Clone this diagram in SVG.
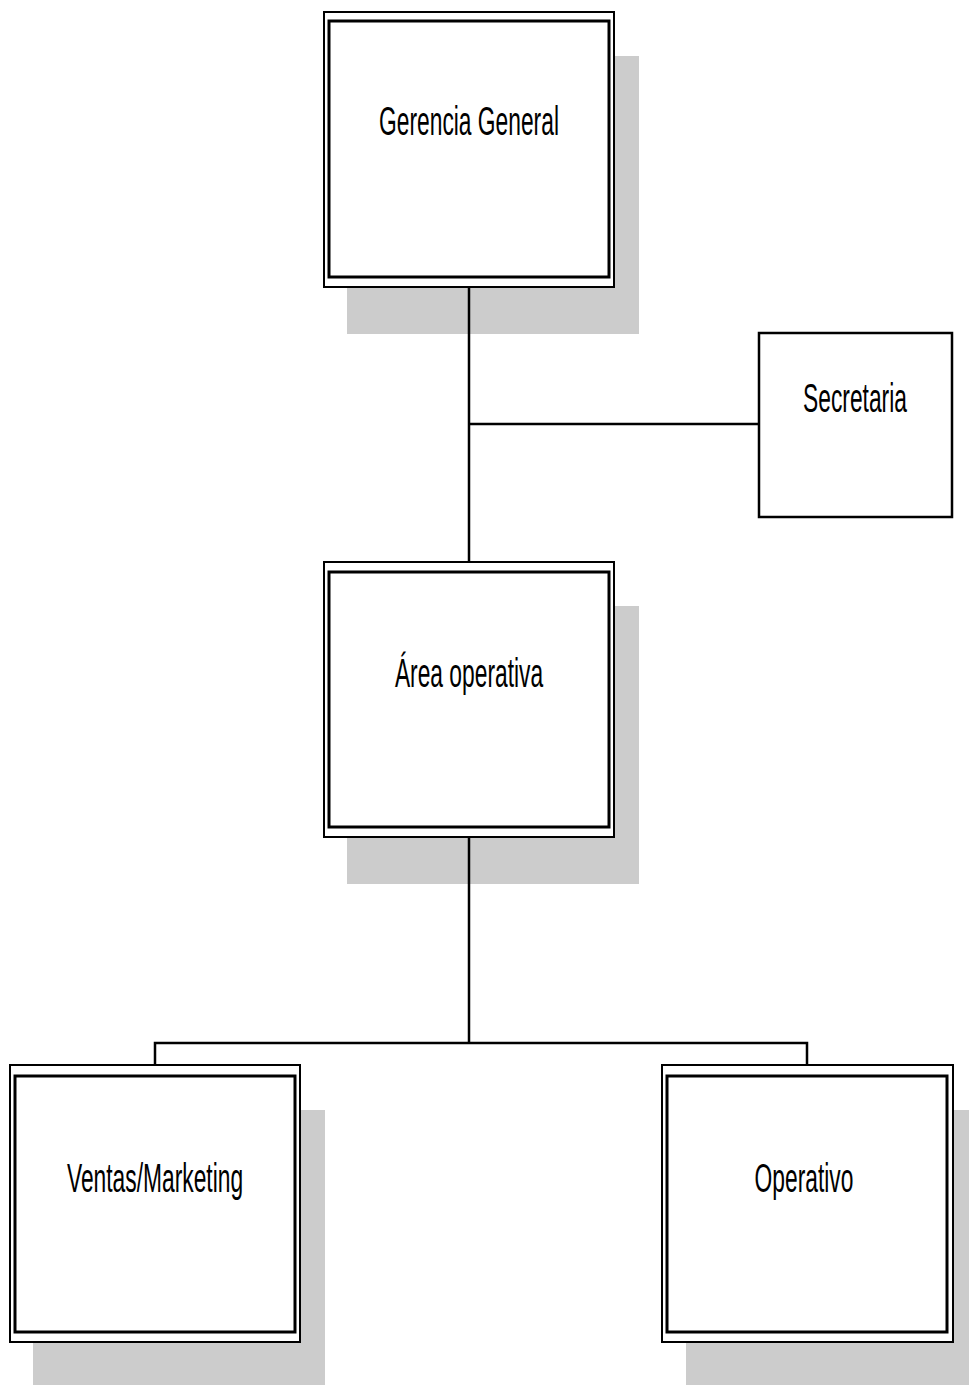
<svg xmlns="http://www.w3.org/2000/svg" width="969" height="1385" viewBox="0 0 969 1385">
<style>
.shadow{fill:#cccccc;stroke:none}
.outer{fill:#ffffff;stroke:#000000;stroke-width:2}
.inner{fill:#ffffff;stroke:#000000;stroke-width:3}
.single{fill:#ffffff;stroke:#000000;stroke-width:2.5}
.lbl{font-family:"Liberation Sans",Arial,sans-serif;font-size:40px;fill:#000000;text-anchor:middle}
.conn{stroke:#000000;stroke-width:2.5;fill:none}
</style>
<rect width="969" height="1385" fill="#ffffff"/>
<g id="shadows">
<rect class="shadow" x="347" y="56" width="292" height="278"/>
<rect class="shadow" x="347" y="606" width="292" height="278"/>
<rect class="shadow" x="33" y="1110" width="292" height="275"/>
<rect class="shadow" x="686" y="1110" width="284" height="275"/>
</g>
<g id="connectors">
<line class="conn" x1="469" y1="287" x2="469" y2="562"/>
<line class="conn" x1="469" y1="424" x2="759" y2="424"/>
<line class="conn" x1="469" y1="837" x2="469" y2="1043"/>
<polyline class="conn" points="155,1065 155,1043 807,1043 807,1065"/>
</g>
<g id="gerencia">
<rect class="outer" x="324" y="12" width="290" height="275"/>
<rect class="inner" x="329" y="21" width="280" height="256"/>
<text class="lbl" transform="translate(469,135) scale(0.57,1)">Gerencia General</text>
</g>
<g id="secretaria">
<rect class="single" x="759" y="333" width="193" height="184"/>
<text class="lbl" transform="translate(855,412) scale(0.57,1)">Secretaria</text>
</g>
<g id="area">
<rect class="outer" x="324" y="562" width="290" height="275"/>
<rect class="inner" x="329" y="572" width="280" height="255"/>
<text class="lbl" transform="translate(469,687) scale(0.57,1)">Área operativa</text>
</g>
<g id="ventas">
<rect class="outer" x="10" y="1065" width="290" height="277"/>
<rect class="inner" x="15" y="1076" width="280" height="256"/>
<text class="lbl" transform="translate(155,1192) scale(0.57,1)">Ventas/Marketing</text>
</g>
<g id="operativo">
<rect class="outer" x="662" y="1065" width="291" height="277"/>
<rect class="inner" x="667" y="1076" width="280" height="256"/>
<text class="lbl" transform="translate(804,1192) scale(0.57,1)">Operativo</text>
</g>
</svg>
